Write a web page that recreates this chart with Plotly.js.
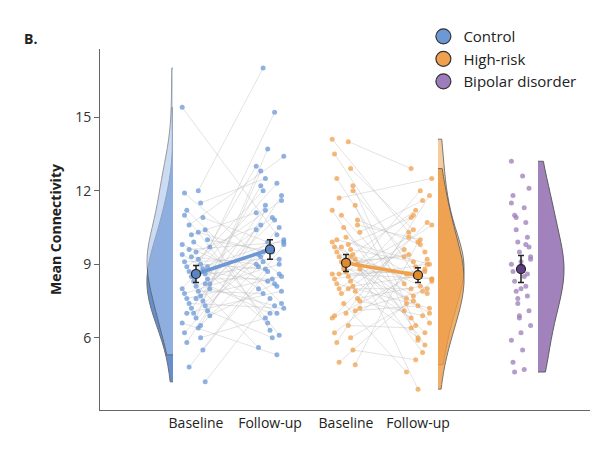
<!DOCTYPE html>
<html>
<head>
<script src="https://cdn.plot.ly/plotly-3.0.1.min.js"></script>
<style>body{margin:0}#chart{width:596px;height:456px}</style>
</head>
<body>
<div id="chart"></div>
<script>
const groupNames = ["Control", "High-risk", "Bipolar disorder"];
const tickLabels = ["Baseline", "Follow-up", "Baseline", "Follow-up"];
const tickPositions = [196, 270, 346, 418];

const controlBaseline = [15.4, 12.0, 11.9, 11.5, 11.2, 10.9, 10.6, 10.4, 10.2, 10.0, 9.9, 9.7, 9.5, 9.4, 9.2, 9.1, 9.0, 8.9, 8.8, 8.7, 8.6, 8.5, 8.4, 8.3, 8.2, 8.1, 8.0, 7.9, 7.8, 7.7, 7.6, 7.5, 7.4, 7.3, 7.2, 7.1, 7.0, 6.9, 6.8, 6.6, 6.4, 6.2, 6.0, 5.8, 5.5, 4.8, 4.2, 9.3, 8.9, 8.5, 8.0, 7.6, 9.8, 10.3, 11.0, 6.5, 7.0, 8.7, 9.6, 8.2];
const controlFollowup = [10.2, 17.0, 8.6, 12.5, 7.4, 9.9, 13.4, 6.3, 11.1, 9.5, 8.0, 15.2, 10.6, 7.0, 12.0, 9.2, 8.8, 11.6, 6.6, 10.0, 9.7, 13.0, 8.4, 5.6, 10.8, 9.3, 12.3, 7.8, 9.0, 11.4, 8.5, 13.7, 7.2, 9.6, 10.4, 6.0, 9.4, 8.2, 12.8, 5.3, 9.1, 10.5, 6.8, 11.8, 8.7, 9.8, 7.6, 9.0, 10.9, 8.9, 7.3, 12.2, 8.1, 9.5, 6.1, 11.2, 7.9, 8.3, 9.9, 7.0];
const riskBaseline = [14.1, 14.0, 13.5, 12.9, 12.5, 12.0, 11.7, 11.4, 11.0, 10.8, 10.5, 10.3, 10.1, 9.9, 9.8, 9.7, 9.6, 9.5, 9.4, 9.3, 9.2, 9.1, 9.0, 8.9, 8.8, 8.7, 8.6, 8.5, 8.4, 8.3, 8.2, 8.1, 8.0, 7.9, 7.8, 7.6, 7.4, 7.2, 7.0, 6.8, 6.5, 6.2, 6.0, 5.8, 5.5, 5.0, 4.9, 9.7, 10.6, 8.8, 7.5, 9.0, 11.2, 8.0, 6.9, 9.3, 10.0, 12.2, 8.6, 7.1];
const riskFollowup = [9.5, 12.9, 7.8, 10.4, 6.6, 8.9, 12.5, 5.9, 8.2, 9.8, 7.4, 11.6, 8.6, 6.2, 10.9, 8.0, 9.1, 7.0, 11.2, 8.4, 3.9, 9.3, 12.0, 7.6, 5.4, 10.1, 8.7, 6.8, 9.0, 11.0, 7.2, 8.5, 10.6, 6.0, 9.6, 8.1, 4.6, 7.9, 10.3, 8.8, 6.4, 9.2, 7.5, 11.8, 5.1, 8.3, 9.9, 7.1, 10.0, 8.6, 6.9, 9.4, 5.7, 8.0, 10.7, 7.7, 9.0, 6.5, 8.4, 7.3];
const bipolar = [13.2, 12.6, 11.8, 11.3, 11.0, 10.7, 10.4, 10.1, 9.9, 9.7, 9.5, 9.3, 9.1, 9.0, 8.9, 8.7, 8.5, 8.3, 8.1, 7.9, 7.7, 7.4, 7.1, 6.8, 6.5, 6.2, 5.9, 5.5, 5.0, 4.7, 4.6, 9.8, 10.9, 8.6, 7.6, 12.1, 6.9, 9.2, 8.0, 11.5];

const controlMeans = [8.6, 9.6];
const controlErr = [0.35, 0.4];
const riskMeans = [9.05, 8.55];
const riskErr = [0.35, 0.3];
const bipolarMean = [8.8];
const bipolarErr = [0.55];

const BLUE = "#6c98d6", ORANGE = "#f0a14e", PURPLE = "#9c7cba";
const jitter = (i, spread) => (((i * 7) % 13) - 6) * spread;

const data = [];

// paired grey lines
const addPairs = (base, follow, xa, xb) => {
  const xs = [], ys = [];
  base.forEach((v, i) => {
    xs.push(xa + jitter(i, 2.3), xb + jitter(i + 5, 2.3), null);
    ys.push(v, follow[i], null);
  });
  data.push({ x: xs, y: ys, type: "scatter", mode: "lines", line: { color: "rgba(185,185,185,0.4)", width: 1 }, hoverinfo: "skip", showlegend: false });
};
addPairs(controlBaseline, controlFollowup, 196, 270);
addPairs(riskBaseline, riskFollowup, 346, 418);

const addPoints = (vals, cx, color, off, spread) => {
  data.push({ x: vals.map((_, i) => cx + jitter(i + off, spread)), y: vals, type: "scatter", mode: "markers",
    marker: { color: color, size: 5, opacity: 0.75 }, showlegend: false, hoverinfo: "skip" });
};
addPoints(controlBaseline, 196, BLUE, 0, 2.3);
addPoints(controlFollowup, 270, BLUE, 5, 2.3);
addPoints(riskBaseline, 346, ORANGE, 0, 2.3);
addPoints(riskFollowup, 418, ORANGE, 5, 2.3);
addPoints(bipolar, 521, PURPLE, 0, 1.6);

// violins
const addViolin = (vals, x0, side, color, opacity) => {
  data.push({ type: "violin", y: vals, x0: x0, side: side, width: 52, spanmode: "hard", points: false,
    box: { visible: false }, meanline: { visible: false }, fillcolor: color, opacity: opacity,
    line: { color: "#555", width: 1 }, showlegend: false, hoverinfo: "skip", bandwidth: 1.0 });
};
addViolin(controlBaseline, 173, "negative", "#4a7cc4", 0.85);
addViolin(controlFollowup, 173, "negative", "#a9c4ec", 0.6);
addViolin(riskBaseline, 438, "positive", "#f5c088", 0.8);
addViolin(riskFollowup, 438, "positive", "#ee9a40", 0.8);
addViolin(bipolar, 538, "positive", PURPLE, 0.95);

// means with error bars
const addMeans = (xs, means, errs, color, lineColor) => {
  data.push({ x: xs, y: means, type: "scatter", mode: "lines+markers",
    line: { color: lineColor, width: 3.5 },
    marker: { color: color, size: 9, line: { color: "#222", width: 1.2 } },
    error_y: { type: "data", array: errs, color: "#222", thickness: 1.5, width: 3 },
    showlegend: false, hoverinfo: "skip" });
};
addMeans([196, 270], controlMeans, controlErr, "#5a85c4", BLUE);
addMeans([346, 418], riskMeans, riskErr, "#e08a30", ORANGE);
addMeans([521], bipolarMean, bipolarErr, "#5e3f82", PURPLE);

// legend entries
[BLUE, ORANGE, PURPLE].forEach((c, i) => {
  data.push({ x: [null], y: [null], type: "scatter", mode: "markers", name: groupNames[i],
    marker: { color: c, size: 15, line: { color: "#333", width: 1.2 } } });
});

const layout = {
  width: 596, height: 456,
  margin: { l: 100, r: 6, t: 49, b: 46 },
  paper_bgcolor: "#fff", plot_bgcolor: "#fff",
  font: { family: "'Open Sans', sans-serif", size: 14, color: "#333" },
  xaxis: { range: [100, 590], tickvals: tickPositions, ticktext: tickLabels, showgrid: false, zeroline: false,
    showline: true, linecolor: "#666", ticks: "", tickfont: { size: 14, color: "#222" } },
  yaxis: { range: [3.05, 17.78], tickvals: [6, 9, 12, 15], showgrid: false, zeroline: false, showline: true,
    linecolor: "#666", ticks: "outside", ticklen: 5, tickcolor: "#666", tickfont: { size: 14, color: "#333" },
    title: { text: "<b>Mean Connectivity</b>", font: { size: 14, color: "#222" }, standoff: 10 } },
  legend: { x: 0.66, y: 1.08, xanchor: "left", yanchor: "top", font: { size: 15, color: "#222" }, bgcolor: "rgba(0,0,0,0)", tracegroupgap: 0 },
  annotations: [{ text: "<b>B.</b>", xref: "paper", yref: "paper", x: -0.16, y: 1.06, showarrow: false, font: { size: 14, color: "#222" } }],
  violinmode: "overlay"
};

Plotly.newPlot("chart", data, layout, { displayModeBar: false, staticPlot: true });
</script>
</body>
</html>
